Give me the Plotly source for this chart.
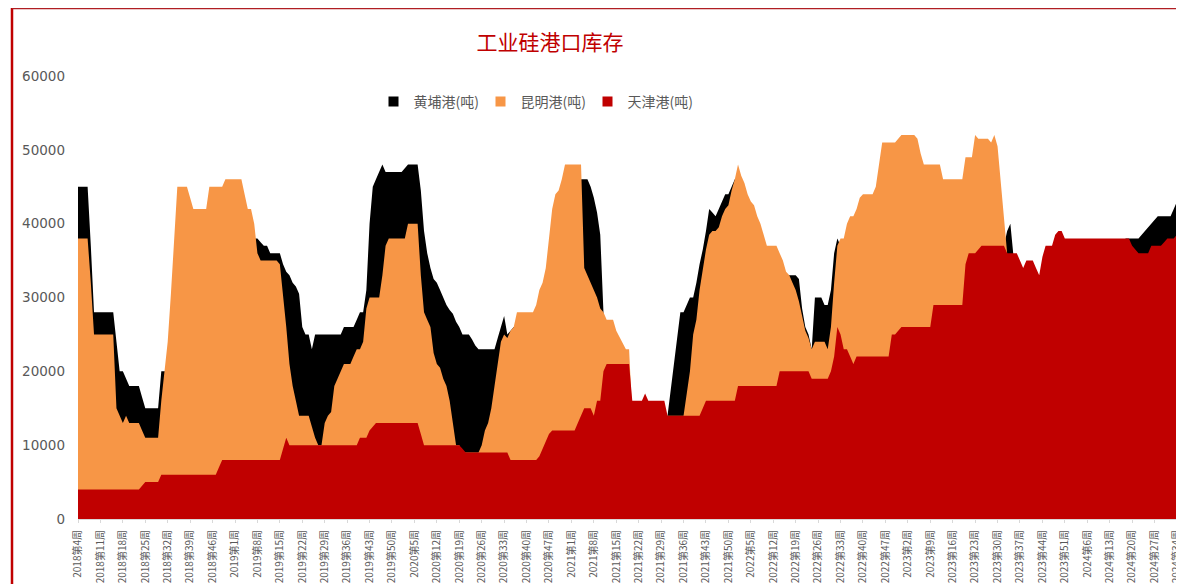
import plotly.graph_objects as go

# ---- categories (weekly) ----
years = [2018, 2019, 2020, 2021, 2022, 2023, 2024]
first_week = [4, 1, 1, 1, 1, 1, 1]
last_week = [52, 52, 53, 52, 52, 52, 34]
weeks = []
for yr, a, b in zip(years, first_week, last_week):
    for w in range(a, b + 1):
        weeks.append(f"{yr}第{w}周")

tick_labels = [
    "2018第4周", "2018第11周", "2018第18周", "2018第25周", "2018第32周", "2018第39周", "2018第46周",
    "2019第1周", "2019第8周", "2019第15周", "2019第22周", "2019第29周", "2019第36周", "2019第43周", "2019第50周",
    "2020第5周", "2020第12周", "2020第19周", "2020第26周", "2020第33周", "2020第40周", "2020第47周",
    "2021第1周", "2021第8周", "2021第15周", "2021第22周", "2021第29周", "2021第36周", "2021第43周", "2021第50周",
    "2022第5周", "2022第12周", "2022第19周", "2022第26周", "2022第33周", "2022第40周", "2022第47周",
    "2023第2周", "2023第9周", "2023第16周", "2023第23周", "2023第30周", "2023第37周", "2023第44周", "2023第51周",
    "2024第6周", "2024第13周", "2024第20周", "2024第27周", "2024第34周",
]

# ---- series (tonnes) ----
huangpu = [
    45000, 45000, 45000, 45000, 37000, 28000, 28000, 28000, 28000, 28000,
    28000, 28000, 24000, 20000, 20000, 19000, 18000, 18000, 18000, 18000,
    16500, 15000, 15000, 15000, 15000, 15000, 20000, 20000, 20000, 20000,
    20000, 20000, 20000, 20000, 20000, 20000, 20000, 20000, 20000, 20000,
    20000, 20000, 20000, 20000, 20000, 20000, 20000, 20000, 20000, 20000,
    20000, 20000, 20000, 20000, 20000, 38000, 38000, 37500, 37000, 37000,
    36000, 36000, 36000, 36000, 34500, 33500, 33000, 32000, 31500, 30500,
    26000, 25000, 25000, 23000, 25000, 25000, 25000, 25000, 25000, 25000,
    25000, 25000, 25000, 26000, 26000, 26000, 26000, 27000, 28000, 28000,
    31000, 40000, 45000, 46000, 47000, 48000, 47000, 47000, 47000, 47000,
    47000, 47000, 47500, 48000, 48000, 48000, 48000, 44500, 39000, 36000,
    34000, 32500, 32000, 31000, 30000, 29000, 28300, 27800, 26700, 26000,
    25000, 25000, 25000, 24300, 23500, 23000, 23000, 23000, 23000, 23000,
    23000, 24500, 26000, 27500, 25000, 25500, 26000, 26000, 26000, 26000,
    26000, 26000, 26000, 26000, 26000, 26000, 26000, 26000, 26000, 26000,
    26000, 26000, 26000, 26000, 26000, 26000, 26000, 46000, 46000, 46000,
    45000, 43500, 41500, 38500, 28000, 14000, 14000, 14000, 14000, 14000,
    14000, 14000, 14000, 14000, 14000, 14000, 14000, 14000, 14000, 14000,
    14000, 14000, 14000, 14000, 14000, 17500, 21000, 24000, 28000, 28000,
    29000, 30000, 30000, 32000, 34500, 36500, 39000, 42000, 41500, 41000,
    42000, 43000, 44000, 44000, 45000, 46000, 46000, 45500, 44500, 43000,
    42000, 41500, 40000, 39000, 37500, 36000, 36000, 36000, 36000, 35000,
    34000, 33000, 33000, 33000, 33000, 32500, 28500, 26000, 25000, 23000,
    30000, 30000, 30000, 29000, 29000, 31000, 36000, 38000, 37000, 37000,
    37000, 37000, 37000, 37000, 37000, 37000, 37000, 37000, 37000, 37000,
    37000, 37000, 37000, 37000, 37000, 37000, 37000, 37000, 37000, 37000,
    37000, 37000, 37000, 37000, 37000, 37000, 37000, 37000, 37000, 37000,
    37000, 37000, 37000, 37000, 37000, 37000, 37000, 37000, 37000, 37000,
    37000, 37000, 37000, 37000, 37000, 37000, 37000, 37000, 37000, 37000,
    39000, 40000, 35500, 32000, 32000, 32000, 32000, 32000, 32000, 32000,
    32000, 32000, 32000, 32000, 32000, 32000, 32000, 32000, 37500, 37500,
    37500, 37500, 37500, 37500, 37500, 37500, 37500, 37500, 37500, 37500,
    37500, 37500, 37500, 37500, 37500, 37500, 37500, 38000, 38000, 38000,
    38000, 38000, 38500, 39000, 39500, 40000, 40500, 41000, 41000, 41000,
    41000, 41000, 42000, 43000,
]

kunming = [
    38000, 38000, 38000, 38000, 32000, 25000, 25000, 25000, 25000, 25000,
    25000, 25000, 15000, 14000, 13000, 14000, 13000, 13000, 13000, 13000,
    12000, 11000, 11000, 11000, 11000, 11000, 16000, 20000, 24000, 30500,
    37000, 45000, 45000, 45000, 45000, 43500, 42000, 42000, 42000, 42000,
    42000, 45000, 45000, 45000, 45000, 45000, 46000, 46000, 46000, 46000,
    46000, 46000, 44000, 42000, 42000, 40000, 36000, 35000, 35000, 35000,
    35000, 35000, 35000, 34500, 30500, 26000, 21000, 18000, 16000, 14000,
    14000, 14000, 14000, 12500, 11000, 10000, 10000, 13000, 14000, 14500,
    18000, 19000, 20000, 21000, 21000, 21000, 22000, 23000, 23000, 24000,
    28500, 30000, 30000, 30000, 30000, 33000, 37000, 38000, 38000, 38000,
    38000, 38000, 38000, 40000, 40000, 40000, 40000, 33000, 28000, 27000,
    26000, 22500, 21000, 20500, 19000, 18000, 16000, 13000, 10000, 10000,
    9000, 9000, 9000, 9000, 9000, 9000, 10000, 12000, 13000, 15000,
    18000, 21000, 24000, 25000, 24500, 25500, 26000, 28000, 28000, 28000,
    28000, 28000, 28000, 29000, 31000, 32000, 34000, 38000, 42000, 44000,
    44500, 46000, 48000, 48000, 48000, 48000, 48000, 48000, 34000, 33000,
    32000, 31000, 30000, 28500, 28000, 27000, 27000, 27000, 25500, 24700,
    24000, 23000, 23000, 14000, 14000, 14000, 14000, 14000, 14000, 14000,
    14000, 14000, 14000, 14000, 14000, 14000, 14000, 14000, 14000, 14000,
    17000, 20000, 25000, 27000, 31000, 34000, 36500, 38500, 39000, 39000,
    39500, 41000, 42000, 42500, 44500, 46000, 48000, 46500, 45500, 44000,
    43000, 42500, 41000, 40000, 38500, 37000, 37000, 37000, 37000, 36000,
    35000, 33500, 33000, 32000, 31000, 29500, 27500, 25500, 24500, 23000,
    24000, 24000, 24000, 24000, 23000, 26000, 32000, 37000, 38000, 38000,
    40000, 41000, 41000, 42000, 43500, 44000, 44000, 44000, 44000, 45000,
    48000, 51000, 51000, 51000, 51000, 51000, 51500, 52000, 52000, 52000,
    52000, 52000, 51500, 49500, 48000, 48000, 48000, 48000, 48000, 48000,
    46000, 46000, 46000, 46000, 46000, 46000, 46000, 49000, 49000, 49000,
    52000, 51500, 51500, 51500, 51500, 51000, 52000, 50500, 45500, 41500,
    36000, 30000, 30000, 30000, 30000, 30000, 30000, 30000, 30000, 30000,
    30000, 30000, 30000, 30000, 30000, 30000, 30000, 30000, 30000, 30000,
    30000, 30000, 30000, 30000, 30000, 30000, 30000, 30000, 30000, 30000,
    30000, 30000, 30000, 30000, 30000, 30000, 30000, 30000, 30000, 30000,
    30000, 30000, 30000, 30000, 30000, 30000, 30000, 30000, 30000, 30000,
    30000, 30000, 30000, 30000,
]

tianjin = [
    4000, 4000, 4000, 4000, 4000, 4000, 4000, 4000, 4000, 4000,
    4000, 4000, 4000, 4000, 4000, 4000, 4000, 4000, 4000, 4000,
    4500, 5000, 5000, 5000, 5000, 5000, 6000, 6000, 6000, 6000,
    6000, 6000, 6000, 6000, 6000, 6000, 6000, 6000, 6000, 6000,
    6000, 6000, 6000, 6000, 7000, 8000, 8000, 8000, 8000, 8000,
    8000, 8000, 8000, 8000, 8000, 8000, 8000, 8000, 8000, 8000,
    8000, 8000, 8000, 8000, 9500, 11000, 10000, 10000, 10000, 10000,
    10000, 10000, 10000, 10000, 10000, 10000, 10000, 10000, 10000, 10000,
    10000, 10000, 10000, 10000, 10000, 10000, 10000, 10000, 11000, 11000,
    11000, 12000, 12500, 13000, 13000, 13000, 13000, 13000, 13000, 13000,
    13000, 13000, 13000, 13000, 13000, 13000, 13000, 11500, 10000, 10000,
    10000, 10000, 10000, 10000, 10000, 10000, 10000, 10000, 10000, 10000,
    9500, 9000, 9000, 9000, 9000, 9000, 9000, 9000, 9000, 9000,
    9000, 9000, 9000, 9000, 9000, 8000, 8000, 8000, 8000, 8000,
    8000, 8000, 8000, 8000, 8500, 9500, 10500, 11500, 12000, 12000,
    12000, 12000, 12000, 12000, 12000, 12000, 13000, 14000, 15000, 15000,
    15000, 14000, 16000, 16000, 20000, 21000, 21000, 21000, 21000, 21000,
    21000, 21000, 21000, 16000, 16000, 16000, 16000, 17000, 16000, 16000,
    16000, 16000, 16000, 16000, 14000, 14000, 14000, 14000, 14000, 14000,
    14000, 14000, 14000, 14000, 14000, 15000, 16000, 16000, 16000, 16000,
    16000, 16000, 16000, 16000, 16000, 16000, 18000, 18000, 18000, 18000,
    18000, 18000, 18000, 18000, 18000, 18000, 18000, 18000, 18000, 20000,
    20000, 20000, 20000, 20000, 20000, 20000, 20000, 20000, 20000, 19000,
    19000, 19000, 19000, 19000, 19000, 20000, 22000, 26000, 25000, 23000,
    23000, 22000, 21000, 22000, 22000, 22000, 22000, 22000, 22000, 22000,
    22000, 22000, 22000, 22000, 25000, 25000, 25500, 26000, 26000, 26000,
    26000, 26000, 26000, 26000, 26000, 26000, 26000, 29000, 29000, 29000,
    29000, 29000, 29000, 29000, 29000, 29000, 29000, 34500, 36000, 36000,
    36000, 36500, 37000, 37000, 37000, 37000, 37000, 37000, 37000, 37000,
    36000, 36000, 36000, 36000, 35000, 34000, 35000, 35000, 35000, 34000,
    33000, 35500, 37000, 37000, 37000, 38500, 39000, 39000, 38000, 38000,
    38000, 38000, 38000, 38000, 38000, 38000, 38000, 38000, 38000, 38000,
    38000, 38000, 38000, 38000, 38000, 38000, 38000, 38000, 38000, 37000,
    36500, 36000, 36000, 36000, 36000, 37000, 37000, 37000, 37000, 37500,
    38000, 38000, 38000, 38500,
]

assert len(weeks) == 344
assert len(huangpu) == 344, len(huangpu)
assert len(kunming) == 344, len(kunming)
assert len(tianjin) == 344, len(tianjin)

series = [
    ("黄埔港(吨)", huangpu, "#000000"),
    ("昆明港(吨)", kunming, "#F79646"),
    ("天津港(吨)", tianjin, "#C00000"),
]

fig = go.Figure()
# filled areas (drawn back to front, not stacked)
for name, vals, color in series:
    fig.add_trace(go.Scatter(
        x=weeks, y=vals, name=name, mode="lines",
        line=dict(width=0, color=color),
        fill="tozeroy", fillcolor=color, showlegend=False,
    ))
# square legend keys
for name, vals, color in series:
    fig.add_trace(go.Scatter(
        x=[None], y=[None], name=name, mode="markers",
        marker=dict(symbol="square", size=10, color=color),
        showlegend=True,
    ))

# page offset of the figure inside the browser body
OFF = 8
W, H = 1184 - OFF, 584 - OFF
L, R, T, B = 78 - OFF, 7, 76 - OFF, 65
pw, ph = W - L - R, H - T - B


def px(x):  # reference pixel x -> paper
    return (x - OFF - L) / pw


def py(y):  # reference pixel y -> paper
    return (H - B - (y - OFF)) / ph


fig.update_layout(
    width=W, height=H,
    margin=dict(l=L, r=R, t=T, b=B, pad=0, autoexpand=False),
    paper_bgcolor="white", plot_bgcolor="white",
    title=dict(text="工业硅港口库存", x=(550 - OFF) / W, xanchor="center",
               y=1 - (43 - OFF) / H, yanchor="middle",
               font=dict(family="Noto Sans CJK SC", size=21, color="#C00000")),
    showlegend=True,
    legend=dict(orientation="h", x=px(534), xanchor="center", y=py(102), yanchor="middle",
                font=dict(family="Noto Sans CJK SC", size=14, color="#595959"),
                bgcolor="rgba(0,0,0,0)", itemwidth=30, traceorder="normal",
                entrywidth=62, entrywidthmode="pixels"),
    xaxis=dict(type="category", categoryorder="array", categoryarray=weeks,
               range=[0, len(weeks) - 1 + 0.01], tickmode="array",
               tickvals=tick_labels, ticktext=tick_labels, tickangle=-90,
               tickfont=dict(family="Noto Sans CJK SC", size=10, color="#595959"),
               showgrid=False, zeroline=False, showline=True, linecolor="#D9D9D9",
               ticks="outside", ticklen=3, tickcolor="#D9D9D9",
               ticklabelshift=0, ticklabelstandoff=3, automargin=False),
    yaxis=dict(range=[0, 60000], tickmode="array",
               tickvals=[0, 10000, 20000, 30000, 40000, 50000, 60000],
               ticktext=["0", "10000", "20000", "30000", "40000", "50000", "60000"],
               showgrid=False, zeroline=False, showline=False,
               tickfont=dict(family="DejaVu Sans", size=13.5, color="#595959"),
               ticklabelstandoff=12, automargin=False),
    hovermode=False,
    shapes=[
        dict(type="line", xref="paper", yref="paper", x0=px(12), x1=px(12),
             y0=py(7), y1=py(590), line=dict(color="#C00000", width=2.5), layer="above"),
        dict(type="line", xref="paper", yref="paper", x0=px(12), x1=px(1190),
             y0=py(8), y1=py(8), line=dict(color="#B01E23", width=2.5), layer="above"),
        dict(type="line", xref="paper", yref="paper", x0=px(1182.5), x1=px(1182.5),
             y0=py(8), y1=py(590), line=dict(color="#F4D6D6", width=1), layer="above"),
    ],
)

fig.write_html("out.html")
